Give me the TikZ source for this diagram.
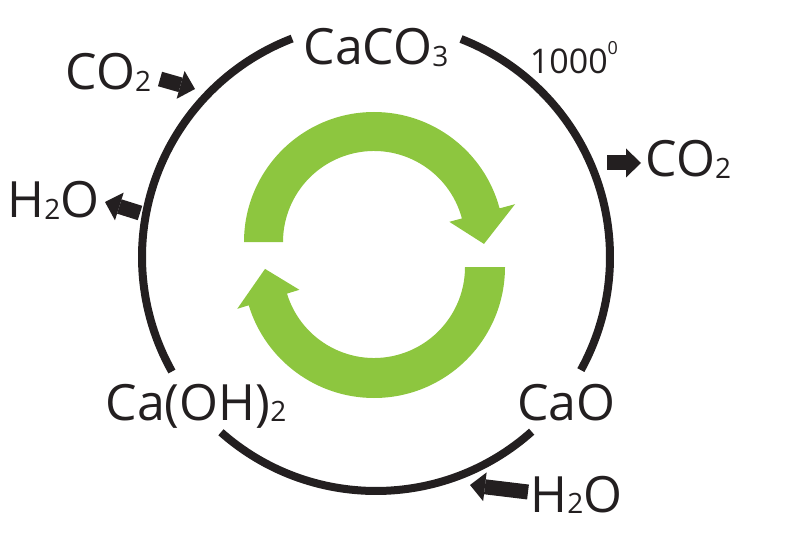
\documentclass[tikz,border=0pt]{standalone}
\usepackage{fontspec}
\setmainfont{Open Sans}
\usetikzlibrary{arrows.meta}
\definecolor{leafgreen}{HTML}{8DC63F}
\definecolor{inkblack}{HTML}{231F20}
\newcommand\lowdigit[1]{\raisebox{-1.5pt}{\fontsize{28}{30}\selectfont #1}}
\tikzset{
    chem/.style = {inner sep=0pt, anchor=base, text=inkblack, font=\fontsize{50}{60}\selectfont},
    templabel/.style = {chem, font=\fontsize{34}{40}\selectfont},
    ringarc/.style = {draw=inkblack, line width=8pt},
    blockarrow/.style = {draw=inkblack, line width=15pt, -{Triangle[length=15pt, width=29pt, line width=0pt]}},
    greenarc/.style = {fill=leafgreen}
}
\begin{document}
\begin{tikzpicture}[x=1pt, y=1pt]
    \useasboundingbox (0,0) rectangle (800,539);

    \coordinate (hub) at (376,282);
    \draw[ringarc] ([shift={(111:234)}]hub) arc[start angle=111, end angle=209.3, radius=234];
    \draw[ringarc] ([shift={(228.5:234)}]hub) arc[start angle=228.5, end angle=311.7, radius=234];
    \draw[ringarc] ([shift={(-28.9:234)}]hub) arc[start angle=-28.9, end angle=68.7, radius=234];

    \begin{scope}[shift={(374,297)}]
        \fill[greenarc] (180:130) arc[start angle=180, end angle=15, radius=130] -- (15:146) -- (-1:110) -- (15:78) -- (15:91) arc[start angle=15, end angle=180, radius=91] -- cycle;
    \end{scope}
    \begin{scope}[shift={(374,272)}]
        \fill[greenarc] (0:131) arc[start angle=0, end angle=-163, radius=131] -- (-163:143) -- (181:109) -- (-163:78) -- (-163:91) arc[start angle=-163, end angle=0, radius=91] -- cycle;
    \end{scope}

    \node[chem] (caco3) at (376,474) {CaCO\lowdigit{3}};
    \node[templabel] (temp) at (574,465) {1000\raisebox{19pt}{\fontsize{18}{20}\selectfont 0}};
    \node[chem] (cao) at (566.5,119) {CaO};
    \node[chem] (caoh) at (196,119) {Ca(OH)\lowdigit{2}};
    \node[chem] (co2in) at (108.5,449) {CO\lowdigit{2}};
    \node[chem] (h2oout) at (53.5,321) {H\lowdigit{2}O};
    \node[chem] (co2out) at (688.5,362) {CO\lowdigit{2}};
    \node[chem] (h2oin) at (576.5,27) {H\lowdigit{2}O};

    \coordinate (co2in tail) at (160,460);
    \coordinate (co2in tip) at (195,450);
    \coordinate (h2oout tail) at (140,326);
    \coordinate (h2oout tip) at (105,337);
    \coordinate (co2out tail) at (607,376);
    \coordinate (co2out tip) at (641,376);
    \coordinate (h2oin tail) at (528,47);
    \coordinate (h2oin tip) at (470,54);

    \draw[blockarrow] (co2in tail) -- (co2in tip);
    \draw[blockarrow] (h2oout tail) -- (h2oout tip);
    \draw[blockarrow] (co2out tail) -- (co2out tip);
    \draw[blockarrow] (h2oin tail) -- (h2oin tip);
\end{tikzpicture}
\end{document}
